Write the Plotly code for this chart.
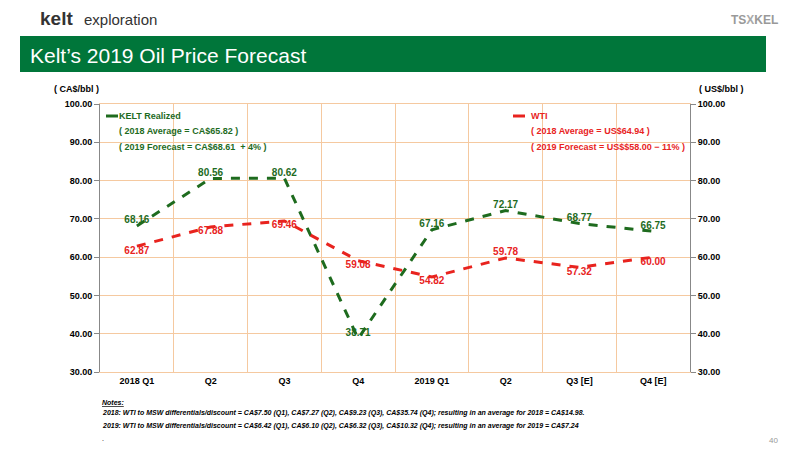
import plotly.graph_objects as go

quarters = ["2018 Q1", "Q2", "Q3", "Q4", "2019 Q1", "Q2", "Q3 [E]", "Q4 [E]"]
kelt = [68.16, 80.56, 80.62, 38.71, 67.16, 72.17, 68.77, 66.75]
wti = [62.87, 67.88, 69.46, 59.08, 54.82, 59.78, 57.32, 60.00]
wti_pos = ["bottom center"] * 5 + ["top center"] + ["bottom center"] * 2

GREEN = "#00763A"
DGREEN = "#1E6B1E"
RED = "#E8231E"
GRID = "#F5C9A0"
FONT = "Liberation Sans Narrow, Arial Narrow, Arial"
OFF = 8  # page body margin

def px(xp):
    return (xp - OFF) / 800

def py(yp):
    return 1 - (yp - OFF) / 450

x = list(range(len(quarters)))
fig = go.Figure()
fig.add_scatter(x=x, y=kelt, mode="lines+text", text=[f"<b>{v:.2f}</b>" for v in kelt],
                textposition="top center", line=dict(color=DGREEN, width=3, dash="dash"),
                textfont=dict(color=DGREEN, size=10, family=FONT), cliponaxis=False)
fig.add_scatter(x=x, y=wti, mode="lines+text", text=[f"<b>{v:.2f}</b>" for v in wti],
                textposition=wti_pos, line=dict(color=RED, width=3, dash="dash"),
                textfont=dict(color=RED, size=10, family=FONT), yaxis="y2", cliponaxis=False)

axis_font = dict(size=9, family=FONT, color="black")
fig.update_layout(
    width=800, height=450, margin=dict(l=0, r=0, t=0, b=0, autoexpand=False),
    paper_bgcolor="white", plot_bgcolor="white", showlegend=False,
    font=dict(family=FONT),
    xaxis=dict(domain=[px(100), px(690)], range=[-0.5, 7.5], tickvals=x,
               ticktext=[f"<b>{q}</b>" for q in quarters],
               showgrid=False, zeroline=False, tickfont=axis_font, showline=True,
               linecolor=GRID, mirror=True,
               minor=dict(tickvals=[i + 0.5 for i in range(-1, 8)], showgrid=True,
                          gridcolor=GRID, gridwidth=1)),
    yaxis=dict(domain=[py(372), py(104)], range=[30, 100], dtick=10, tickformat=".2f",
               gridcolor=GRID, zeroline=False, tickfont=axis_font, ticks="outside",
               tickcolor="#888", ticklen=5, showline=True, linecolor="#888"),
    yaxis2=dict(overlaying="y", side="right", range=[30, 100], dtick=10, tickformat=".2f",
                showgrid=False, zeroline=False, tickfont=axis_font, ticks="outside",
                tickcolor="#888", ticklen=5, showline=True, linecolor="#888"),
)
fig.update_yaxes(tickprefix="<b>", ticksuffix="</b>")

shapes = [
    dict(type="rect", xref="paper", yref="paper", x0=px(20), x1=px(766), y0=py(72),
         y1=py(36), fillcolor=GREEN, line=dict(width=0), layer="below"),
    dict(type="line", xref="paper", yref="paper", x0=px(106), x1=px(118), y0=py(116),
         y1=py(116), line=dict(color=DGREEN, width=3)),
    dict(type="line", xref="paper", yref="paper", x0=px(513), x1=px(525), y0=py(116),
         y1=py(116), line=dict(color=RED, width=3)),
]

def note(xp, yp, text, size=10, color="black", anchor="left", bold=False, italic=False, family=FONT):
    if bold:
        text = f"<b>{text}</b>"
    if italic:
        text = f"<i>{text}</i>"
    return dict(xref="paper", yref="paper", x=px(xp), y=py(yp), text=text,
                showarrow=False, xanchor=anchor, yanchor="middle",
                font=dict(size=size, color=color, family=family))

ann = [
    note(38, 18, "<b>kelt</b>", size=19, color="#333", family="Arial"),
    note(82, 20, "exploration", size=15, color="#333", family="Arial"),
    note(780, 20, "TS<span style='color:#aaa'>X</span>KEL", size=12, color="#999",
         anchor="right", bold=True, family="Arial"),
    note(28, 55, "Kelt’s 2019 Oil Price Forecast", size=21, color="white", family=FONT),
    note(52, 89, "( CA$/bbl )", size=9, bold=True),
    note(746, 89, "( US$/bbl )", size=9, bold=True, anchor="right"),
    note(117, 116, "KELT Realized", size=9, color=DGREEN, bold=True),
    note(117, 131, "( 2018 Average = CA$65.82 )", size=9, color=DGREEN, bold=True),
    note(117, 147, "( 2019 Forecast = CA$68.61  + 4% )", size=9, color=DGREEN, bold=True),
    note(529, 116, "WTI", size=9, color=RED, bold=True),
    note(529, 131, "( 2018 Average = US$64.94 )", size=9, color=RED, bold=True),
    note(529, 147, "( 2019 Forecast = US$$58.00 − 11% )", size=9, color=RED, bold=True),
    note(100, 402, "<u>Notes:</u>", size=7, bold=True, italic=True),
    note(100, 413, "2018: WTI to MSW differentials/discount = CA$7.50 (Q1), CA$7.27 (Q2), CA$9.23 (Q3), CA$35.74 (Q4); resulting in an average for 2018 = CA$14.98.",
         size=7, bold=True, italic=True),
    note(100, 426, "2019: WTI to MSW differentials/discount = CA$6.42 (Q1), CA$6.10 (Q2), CA$6.32 (Q3), CA$10.32 (Q4); resulting in an average for 2019 = CA$7.24",
         size=7, bold=True, italic=True),
    note(100, 438, ".", size=7),
    note(780, 440, "40", size=8, color="#999", anchor="right", family="Arial"),
]
fig.update_layout(shapes=shapes, annotations=ann)
fig.write_html("out.html")
